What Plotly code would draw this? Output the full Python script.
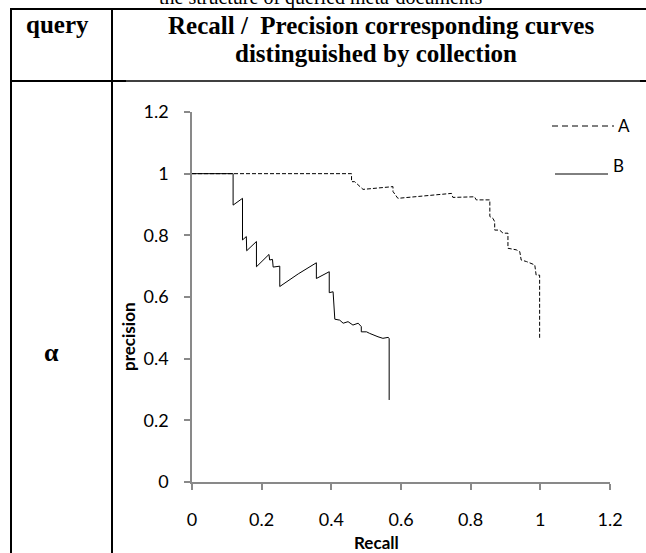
import plotly.graph_objects as go

# ---------------- data ----------------
recall_A = [0.0, 0.458, 0.458, 0.467, 0.491, 0.577, 0.577, 0.591, 0.745, 0.749, 0.811, 0.816,
            0.855, 0.855, 0.864, 0.869, 0.869, 0.883, 0.893, 0.907, 0.907, 0.931, 0.941, 0.945,
            0.960, 0.984, 0.988, 0.998, 0.998]
precision_A = [1.0, 1.0, 0.974, 0.974, 0.949, 0.958, 0.942, 0.920, 0.936, 0.923, 0.925, 0.915,
               0.915, 0.861, 0.855, 0.844, 0.817, 0.817, 0.807, 0.807, 0.758, 0.753, 0.747, 0.720,
               0.715, 0.704, 0.671, 0.671, 0.466]

recall_B = [0.0, 0.118, 0.118, 0.145, 0.145, 0.156, 0.157, 0.185, 0.185, 0.221, 0.223, 0.231,
            0.233, 0.252, 0.252, 0.305, 0.357, 0.357, 0.394, 0.394, 0.405, 0.410, 0.424, 0.434,
            0.448, 0.462, 0.477, 0.486, 0.486, 0.501, 0.510, 0.520, 0.534, 0.548, 0.563, 0.566,
            0.566]
precision_B = [1.0, 1.0, 0.898, 0.920, 0.785, 0.796, 0.750, 0.780, 0.698, 0.738, 0.720, 0.722,
               0.697, 0.700, 0.634, 0.675, 0.711, 0.660, 0.682, 0.614, 0.617, 0.528, 0.525, 0.515,
               0.520, 0.509, 0.515, 0.504, 0.487, 0.487, 0.482, 0.477, 0.471, 0.466, 0.469, 0.466,
               0.266]

tick_vals = [0, 0.2, 0.4, 0.6, 0.8, 1.0, 1.2]
tick_text = ["0", "0.2", "0.4", "0.6", "0.8", "1", "1.2"]
series_names = ["A", "B"]

# ---------------- layout geometry (pixels) ----------------
W, H = 646, 553
PL, PR, PT, PB = 192, 610, 112, 482   # plot area edges


def px(x):
    return (x - PL) / (PR - PL)


def py(y):
    return (PB - y) / (PB - PT)


fig = go.Figure()
fig.add_trace(go.Scatter(x=recall_A, y=precision_A, mode="lines", name=series_names[0],
                         line=dict(color="black", width=1, dash="4px,2px"),
                         showlegend=False))
fig.add_trace(go.Scatter(x=recall_B, y=precision_B, mode="lines", name=series_names[1],
                         line=dict(color="black", width=1),
                         showlegend=False))

axis_common = dict(range=[0, 1.2], tickvals=tick_vals, ticktext=tick_text,
                   showgrid=False, zeroline=False, showline=True,
                   linecolor="#898989", linewidth=1.5,
                   ticks="outside", ticklen=6, tickwidth=1.5, tickcolor="#898989",
                   tickfont=dict(family="Lato", size=18, color="black"))

fig.update_xaxes(**axis_common, ticklabelstandoff=15)
fig.update_yaxes(**axis_common, ticklabelstandoff=12)

shapes = []


def hline(x0, x1, y, w=2):
    shapes.append(dict(type="line", xref="paper", yref="paper", x0=px(x0), x1=px(x1),
                       y0=py(y), y1=py(y), line=dict(color="black", width=w)))


def vline(x, y0, y1, w=2):
    shapes.append(dict(type="line", xref="paper", yref="paper", x0=px(x), x1=px(x),
                       y0=py(y0), y1=py(y1), line=dict(color="black", width=w)))


# table lines
hline(10, 646, 9)
hline(10, 126, 81)
hline(126, 640, 81, 1.5)
hline(640, 646, 81, 2)
vline(11, 8, 553)
vline(112, 8, 553)

# legend samples
shapes.append(dict(type="line", xref="paper", yref="paper", x0=px(552), x1=px(614),
                   y0=py(126), y1=py(126), line=dict(color="black", width=1, dash="6px,4px")))
shapes.append(dict(type="line", xref="paper", yref="paper", x0=px(555), x1=px(608),
                   y0=py(174), y1=py(174), line=dict(color="black", width=1)))

annotations = []


def text(x, y, t, size, family, bold=False, xanchor="center", yanchor="middle", angle=0):
    annotations.append(dict(xref="paper", yref="paper", x=px(x), y=py(y),
                            text=("<b>%s</b>" % t) if bold else t, showarrow=False,
                            xanchor=xanchor, yanchor=yanchor, textangle=angle,
                            font=dict(family=family, size=size, color="black")))


serif = "Liberation Serif"
sans = "Lato"
text(320, -3, "the structure of queried meta-documents", 20, serif)
text(57, 25, "query", 25, serif, bold=True)
text(381, 26, "Recall /\u00a0 Precision corresponding curves", 25, serif, bold=True)
text(376, 53, "distinguished by collection", 25, serif, bold=True)
text(51, 352, "α", 26, serif, bold=True)
text(128, 337, "precision", 17, sans, bold=True, angle=-90)
text(376, 542, "Recall", 17, sans, bold=True)
text(624, 126, series_names[0], 17, sans)
text(618, 165, series_names[1], 17, sans)

fig.update_layout(width=W, height=H, margin=dict(l=PL, r=W - PR, t=PT, b=H - PB),
                  paper_bgcolor="white", plot_bgcolor="white",
                  shapes=shapes, annotations=annotations, showlegend=False)

fig.write_html("out.html", config={"displayModeBar": False},
               post_script="document.body.style.margin='0';"
                           "document.documentElement.style.overflow='hidden';")
